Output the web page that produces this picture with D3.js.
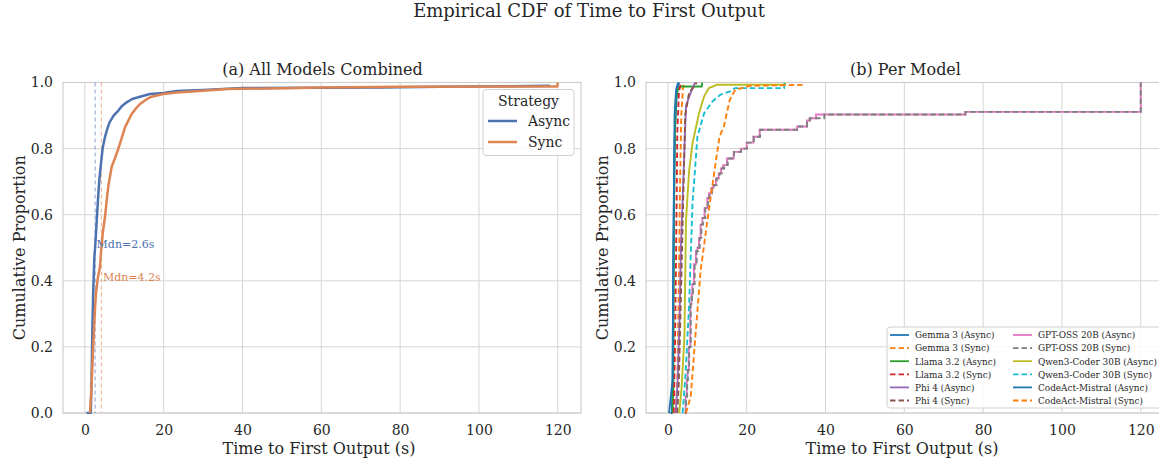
<!DOCTYPE html>
<html><head><meta charset="utf-8">
<script src="https://cdn.jsdelivr.net/npm/d3@7"></script>
<style>body{margin:0;background:#fff}svg{font-family:"DejaVu Serif",serif}</style>
</head><body><svg id="c" width="1159" height="461"></svg>
<script>
// ---- data (points [time s, cumulative proportion]) ----
const strategies = ["Async", "Sync"];
const combinedAsync = [[0.4,0],[1.5,0.0],[1.7,0.1],[1.9,0.25],[2.1,0.36],[2.4,0.47],[2.6,0.5],[3.0,0.58],[3.4,0.66],[3.7,0.71],[4.0,0.745],[4.5,0.8],[5.1,0.835],[5.7,0.86],[6.3,0.88],[7.3,0.9],[8.5,0.915],[9.5,0.93],[10.6,0.94],[12,0.95],[14,0.957],[16.5,0.965],[20,0.968],[23.3,0.974],[30,0.977],[40,0.983],[75,0.985],[90,0.987],[118,0.99]];
const combinedSync = [[1.3,0],[1.6,0.06],[1.9,0.14],[2.1,0.2],[2.5,0.3],[2.8,0.36],[3.3,0.41],[3.8,0.44],[4.2,0.5],[4.6,0.55],[5.1,0.593],[5.6,0.65],[6.0,0.69],[6.8,0.745],[7.6,0.77],[8.5,0.8],[9.3,0.83],[10.2,0.865],[11.9,0.905],[13,0.922],[14,0.935],[15.5,0.948],[16.9,0.957],[19.9,0.965],[23.3,0.97],[30,0.975],[36,0.98],[60,0.985],[80,0.987],[110,0.988],[119.9,0.988],[120,1.0]];
const medians = [2.6, 4.2];
const medianLabels = ["Mdn=2.6s", "Mdn=4.2s"];

const models = ["Gemma 3 (Async)","Gemma 3 (Sync)","Llama 3.2 (Async)","Llama 3.2 (Sync)","Phi 4 (Async)","Phi 4 (Sync)","GPT-OSS 20B (Async)","GPT-OSS 20B (Sync)","Qwen3-Coder 30B (Async)","Qwen3-Coder 30B (Sync)","CodeAct-Mistral (Async)","CodeAct-Mistral (Sync)"];
const gemmaAsync = [[0.6,0],[1.0,0.0],[1.2,0.1],[1.3,0.3],[1.5,0.6],[1.8,0.85],[2.2,0.95],[2.6,0.99],[2.9,1.0]];
const gemmaSync = [[2.0,0],[2.4,0.1],[2.8,0.4],[3.1,0.7],[3.4,0.9],[3.8,0.98],[4.2,1.0]];
const llamaAsync = [[1.2,0],[1.4,0.1],[1.5,0.5],[1.7,0.8],[2.0,0.95],[2.5,0.98],[3.2,0.988],[8.6,0.988],[8.7,1.0]];
const llamaSync = [[1.5,0],[1.8,0.2],[2.1,0.5],[2.4,0.85],[2.8,0.97],[3.3,1.0]];
const phiAsync = [[2.0,0],[2.5,0.1],[3.0,0.3],[3.3,0.5],[4.0,0.73],[4.6,0.93],[5.8,0.97],[6.5,0.99],[7.0,1.0]];
const phiSync = [[2.4,0],[2.8,0.1],[3.2,0.3],[3.6,0.5],[4.0,0.7],[4.4,0.9],[5.4,0.97],[6.5,0.985],[7.3,1.0]];
const gptAsync = [[4.2,0],[4.5,0.05],[4.8,0.1],[5.0,0.13],[5.3,0.2],[5.7,0.33],[6.0,0.36],[6.2,0.39],[6.6,0.45],[7.1,0.49],[7.5,0.5],[7.9,0.53],[8.3,0.57],[8.75,0.59],[9.3,0.62],[10.0,0.65],[10.4,0.665],[11.0,0.68],[11.5,0.69],[12.2,0.71],[12.9,0.725],[13.5,0.74],[14,0.75],[15,0.77],[16.7,0.79],[18.5,0.8],[20,0.818],[21.7,0.836],[23.3,0.857],[32.8,0.867],[35.3,0.885],[36,0.892],[37.6,0.903],[75.5,0.911],[120,1.0]];
const gptSync = [[4.3,0],[4.6,0.05],[4.9,0.1],[5.1,0.13],[5.4,0.2],[5.8,0.33],[6.1,0.36],[6.4,0.39],[6.8,0.45],[7.3,0.49],[7.7,0.5],[8.1,0.53],[8.5,0.57],[8.9,0.59],[9.5,0.62],[10.2,0.65],[10.6,0.665],[11.2,0.68],[11.7,0.69],[12.4,0.71],[13.1,0.725],[13.7,0.74],[14.3,0.75],[15.2,0.77],[16.8,0.79],[18.6,0.8],[20.1,0.818],[21.8,0.836],[23.4,0.857],[32.8,0.867],[35.3,0.885],[36,0.892],[39.7,0.903],[75.5,0.911],[120,1.0]];
const qwenAsync = [[2.9,0],[3.5,0.08],[4.2,0.23],[4.6,0.58],[5.4,0.735],[6.25,0.816],[7.9,0.907],[9.2,0.958],[10.4,0.983],[12.5,0.993],[29.7,0.993],[29.8,1.0]];
const qwenSync = [[3.75,0],[4.5,0.12],[5.4,0.33],[6.25,0.634],[7.5,0.836],[9.2,0.907],[11.25,0.942],[13.3,0.963],[15.8,0.973],[17,0.983],[29.5,0.983],[29.6,1.0]];
const codeactAsync = [[0.3,0],[1.2,0.1],[1.4,0.5],[1.7,0.9],[2.1,0.98],[2.6,1.0]];
const codeactSync = [[4.6,0],[5.8,0.05],[7.1,0.25],[8.3,0.43],[10.4,0.614],[12.1,0.755],[13.1,0.836],[14.2,0.867],[15.7,0.947],[17.1,0.978],[20.8,0.99],[34.4,0.993]];
const modelSeries = [gemmaAsync,gemmaSync,llamaAsync,llamaSync,phiAsync,phiSync,gptAsync,gptSync,qwenAsync,qwenSync,codeactAsync,codeactSync];
const modelColors = ["#1f77b4","#ff7f0e","#2ca02c","#d62728","#9467bd","#8c564b","#e377c2","#7f7f7f","#bcbd22","#17becf","#1f77b4","#ff7f0e"];
const stepped = [false,false,false,false,false,false,true,true,false,false,false,false];
const xTicks = [0,20,40,60,80,100,120];
const yTicks = [0,0.2,0.4,0.6,0.8,1.0];

const svg = d3.select("#c");
const W = 518, pTop = 82.5, pBottom = 413;
const grid = "#d5d5d5", txt = "#262626";

function panel(x0, title) {
  const x = d3.scaleLinear().domain([-5.55, 125.9]).range([x0, x0 + W]);
  const y = d3.scaleLinear().domain([0, 1]).range([pBottom, pTop]);
  const g = svg.append("g");
  const clipId = "clip" + Math.round(x0);
  svg.append("clipPath").attr("id", clipId).append("rect").attr("x", x0).attr("y", pTop - 3).attr("width", W).attr("height", pBottom - pTop + 4);
  g.selectAll(".vg").data(xTicks).join("line").attr("x1", d => x(d)).attr("x2", d => x(d)).attr("y1", pTop).attr("y2", pBottom).attr("stroke", grid).attr("stroke-width", 1);
  g.selectAll(".hg").data(yTicks).join("line").attr("x1", x0).attr("x2", x0 + W).attr("y1", d => y(d)).attr("y2", d => y(d)).attr("stroke", grid).attr("stroke-width", 1);
  g.append("rect").attr("x", x0).attr("y", pTop).attr("width", W).attr("height", pBottom - pTop).attr("fill", "none").attr("stroke", "#cfcfcf").attr("stroke-width", 1.2);
  const xa = g.append("g").attr("transform", `translate(0,${pBottom})`).call(d3.axisBottom(x).tickValues(xTicks).tickSize(0).tickPadding(12).tickFormat(d3.format("d")));
  xa.select(".domain").remove();
  xa.selectAll("text").attr("font-size", 14).attr("fill", txt).attr("font-family", "DejaVu Serif");
  const ya = g.append("g").attr("transform", `translate(${x0},0)`).call(d3.axisLeft(y).tickValues(yTicks).tickSize(0).tickPadding(10).tickFormat(d3.format(".1f")));
  ya.select(".domain").remove();
  ya.selectAll("text").attr("font-size", 14).attr("fill", txt).attr("font-family", "DejaVu Serif");
  g.append("text").attr("x", x0 + W / 2 + 0.5).attr("y", 75).attr("text-anchor", "middle").attr("font-size", 16).attr("fill", txt).text(title);
  g.append("text").attr("x", x0 + W / 2 - 3).attr("y", 454).attr("text-anchor", "middle").attr("font-size", 16).attr("fill", txt).text("Time to First Output (s)");
  g.append("text").attr("transform", `translate(${x0 - 38},${(pTop + pBottom) / 2}) rotate(-90)`).attr("text-anchor", "middle").attr("font-size", 16).attr("fill", txt).text("Cumulative Proportion");
  const plot = svg.append("g").attr("clip-path", `url(#${clipId})`);
  return {x, y, g, plot};
}

const mkLine = (x, y, step) => d3.line().x(d => x(d[0])).y(d => y(d[1])).curve(step ? d3.curveStepAfter : d3.curveLinear);

// Panel (a)
const A = panel(63, "(a) All Models Combined");
const stratColors = ["#4c72b0", "#dd8452"];
medians.forEach((m, i) => {
  A.plot.append("line").attr("x1", A.x(m)).attr("x2", A.x(m)).attr("y1", pTop).attr("y2", pBottom)
    .attr("stroke", stratColors[i]).attr("stroke-opacity", 0.55).attr("stroke-width", 1.2).attr("stroke-dasharray", "4,3");
});
[combinedAsync, combinedSync].forEach((s, i) => {
  A.plot.append("path").datum(s).attr("d", mkLine(A.x, A.y, false)).attr("fill", "none").attr("stroke", stratColors[i]).attr("stroke-width", 2.5).attr("stroke-linejoin", "round");
});
[0.51, 0.41].forEach((p, i) => {
  A.plot.append("text").attr("x", A.x(medians[i]) + 1.5).attr("y", A.y(p) + 4).attr("font-size", 11).attr("fill", stratColors[i]).text(medianLabels[i]);
});
// legend (a)
const lg = A.g.append("g");
lg.append("rect").attr("x", 483).attr("y", 89.5).attr("width", 91).attr("height", 66).attr("rx", 3).attr("fill", "#fff").attr("fill-opacity", 0.85).attr("stroke", "#d0d0d0");
lg.append("text").attr("x", 528.5).attr("y", 106).attr("text-anchor", "middle").attr("font-size", 14).attr("fill", txt).text("Strategy");
strategies.forEach((s, i) => {
  const yy = 121 + i * 21;
  lg.append("line").attr("x1", 488).attr("x2", 517).attr("y1", yy).attr("y2", yy).attr("stroke", stratColors[i]).attr("stroke-width", 2.5);
  lg.append("text").attr("x", 528).attr("y", yy + 5).attr("font-size", 14).attr("fill", txt).text(s);
});

// Panel (b)
const B = panel(646, "(b) Per Model");
modelSeries.forEach((s, i) => {
  B.plot.append("path").datum(s).attr("d", mkLine(B.x, B.y, stepped[i])).attr("fill", "none").attr("stroke", modelColors[i])
    .attr("stroke-width", 1.9).attr("stroke-dasharray", i % 2 ? "5.5,3" : null);
});
const lb = B.g.append("g");
lb.append("rect").attr("x", 887).attr("y", 327).attr("width", 280).attr("height", 81).attr("rx", 3).attr("fill", "#fff").attr("fill-opacity", 0.85).attr("stroke", "#d0d0d0");
models.forEach((m, i) => {
  const col = Math.floor(i / 6), row = i % 6;
  const lx = col ? 1013 : 890, yy = 335 + row * 13.1;
  lb.append("line").attr("x1", lx).attr("x2", lx + 19).attr("y1", yy).attr("y2", yy).attr("stroke", modelColors[i]).attr("stroke-width", 1.8).attr("stroke-dasharray", i % 2 ? "5.5,3" : null);
  lb.append("text").attr("x", lx + 25).attr("y", yy + 3.3).attr("font-size", 8.9).attr("fill", txt).text(m);
});

svg.append("text").attr("x", 589).attr("y", 17).attr("text-anchor", "middle").attr("font-size", 18).attr("fill", txt).text("Empirical CDF of Time to First Output");
</script></body></html>
